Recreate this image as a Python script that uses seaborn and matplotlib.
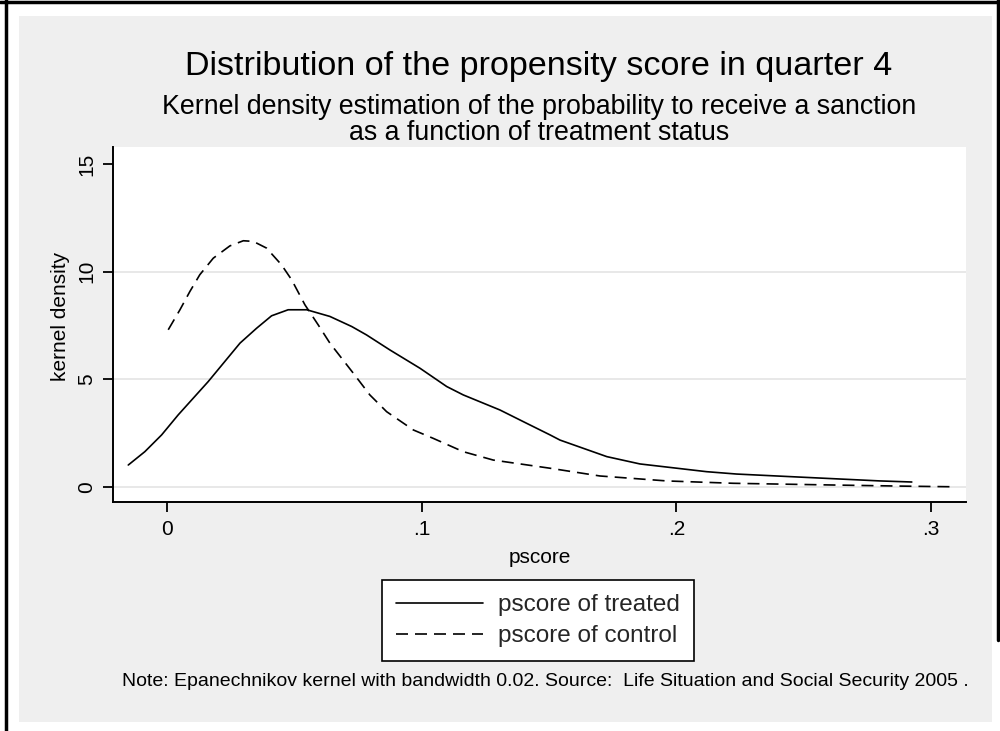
import numpy as np
import pandas as pd
import matplotlib
matplotlib.use('Agg')
import matplotlib.pyplot as plt
import seaborn as sns
from matplotlib.patches import Rectangle
from matplotlib.lines import Line2D

# --- data ---
treated_x = [-0.0153, -0.0088, -0.0022, 0.0043, 0.0161, 0.0286, 0.0351, 0.0410,
             0.0475, 0.0548, 0.0639, 0.0725, 0.0783, 0.0875, 0.0993, 0.1098,
             0.1163, 0.1307, 0.1412, 0.1504, 0.1543, 0.1727, 0.1857, 0.2119,
             0.2237, 0.2447, 0.2800, 0.2925]
treated_y = [1.01, 1.63, 2.41, 3.34, 4.89, 6.68, 7.37, 7.95,
             8.23, 8.23, 7.92, 7.45, 7.06, 6.36, 5.51, 4.66,
             4.27, 3.57, 2.95, 2.41, 2.17, 1.40, 1.06, 0.70,
             0.59, 0.47, 0.27, 0.22]

control_x = [0.0004, 0.0050, 0.0089, 0.0128, 0.0181, 0.0246, 0.0299, 0.0338,
             0.0390, 0.0449, 0.0489, 0.0541, 0.0593, 0.0639, 0.0731, 0.0796,
             0.0862, 0.0967, 0.1045, 0.1163, 0.1281, 0.1504, 0.1700, 0.1962,
             0.2224, 0.2617, 0.2879, 0.3075]
control_y = [7.30, 8.23, 9.08, 9.86, 10.63, 11.20, 11.44, 11.41,
             11.10, 10.32, 9.62, 8.46, 7.53, 6.68, 5.28, 4.27,
             3.49, 2.64, 2.25, 1.63, 1.24, 0.86, 0.50, 0.27,
             0.16, 0.08, 0.03, 0.00]

labels = ['pscore of treated', 'pscore of control']
x_ticks = [0, 0.1, 0.2, 0.3]
x_ticklabels = ['0', '.1', '.2', '.3']
y_ticks = [0, 5, 10, 15]
y_ticklabels = ['0', '5', '10', '15']

TITLE = 'Distribution of the propensity score in quarter 4'
SUBTITLE1 = 'Kernel density estimation of the probability to receive a sanction'
SUBTITLE2 = 'as a function of treatment status'
NOTE = 'Note: Epanechnikov kernel with bandwidth 0.02. Source:  Life Situation and Social Security 2005 .'

df = pd.concat([
    pd.DataFrame({'pscore': treated_x, 'density': treated_y, 'group': labels[0]}),
    pd.DataFrame({'pscore': control_x, 'density': control_y, 'group': labels[1]}),
])

sns.set_theme(style='white')
plt.rcParams['font.family'] = ['Liberation Sans', 'DejaVu Sans']

W, H = 1000, 731
fig = plt.figure(figsize=(10, 7.31), dpi=100, facecolor='white')

# gray graph region and outer frame (behind the axes)
fig.patches.append(Rectangle((19 / W, 1 - 722 / H), (992 - 19) / W, (722 - 16) / H,
                             transform=fig.transFigure, facecolor='#efefef',
                             edgecolor='none', zorder=-2))
frame_kw = dict(transform=fig.transFigure, color='black', lw=2.5, zorder=-1)
fig.lines.append(Line2D([0, 1], [1 - 1.5 / H, 1 - 1.5 / H], **frame_kw))
fig.lines.append(Line2D([5.5 / W, 5.5 / W], [0, 1], **frame_kw))
fig.lines.append(Line2D([997.5 / W, 997.5 / W], [1 - 640 / H, 1], **frame_kw))

ax = fig.add_axes([113 / W, 1 - 502 / H, (966 - 113) / W, (502 - 147) / H])
ax.set_zorder(1)
ax.set_facecolor('white')

lw = 1.2
sns.lineplot(data=df, x='pscore', y='density', hue='group', style='group',
             palette=['black', 'black'],
             dashes={labels[0]: '', labels[1]: (7.2, 4.2)},
             linewidth=lw, sort=False, estimator=None, legend=False, ax=ax)

ax.set_xlim(-0.0213, 0.3138)
ax.set_ylim(-0.71, 15.8)

for y in [0, 5, 10]:
    ax.axhline(y, color='#e4e4e4', lw=1.2, zorder=0)

ax.set_xticks(x_ticks)
ax.set_xticklabels(x_ticklabels)
ax.set_yticks(y_ticks)
ax.set_yticklabels(y_ticklabels, rotation=90, va='center')
ax.tick_params(axis='both', direction='out', length=7.2, width=1.3, color='black',
               labelsize=15, labelcolor='black', left=True, bottom=True)
ax.tick_params(axis='x', pad=6)
ax.tick_params(axis='y', pad=5)

for side in ['top', 'right']:
    ax.spines[side].set_visible(False)
for side in ['left', 'bottom']:
    ax.spines[side].set_color('black')
    ax.spines[side].set_linewidth(1.4)

ax.set_xlabel('pscore', fontsize=15, color='black', labelpad=6)
ax.set_ylabel('kernel density', fontsize=15, color='black')
ax.yaxis.set_label_coords(-0.0504, 0.524)

# titles
cx = 539 / W
fig.text(cx, 1 - 75 / H, TITLE, ha='center', va='baseline', fontsize=24.6, color='black')
fig.text(cx, 1 - 114 / H, SUBTITLE1, ha='center', va='baseline', fontsize=19.3, color='black')
fig.text(cx, 1 - 140 / H, SUBTITLE2, ha='center', va='baseline', fontsize=19.3, color='black')

# legend
handles = [Line2D([], [], color='black', lw=lw),
           Line2D([], [], color='black', lw=lw, dashes=(7.2, 4.2))]
leg = fig.legend(handles, labels, loc='upper center',
                 bbox_to_anchor=(538 / W, 1 - 580 / H), fontsize=17.5,
                 frameon=True, fancybox=False, framealpha=1, edgecolor='black',
                 facecolor='white', handlelength=3.6, handletextpad=0.62,
                 borderpad=0.58, labelspacing=0.37, borderaxespad=0)
leg.get_frame().set_linewidth(1.2)

fig.text(545 / W, 1 - 681 / H, NOTE, ha='center', va='center', fontsize=14, color='black')

fig.savefig('out.png', dpi=100, facecolor='white')
